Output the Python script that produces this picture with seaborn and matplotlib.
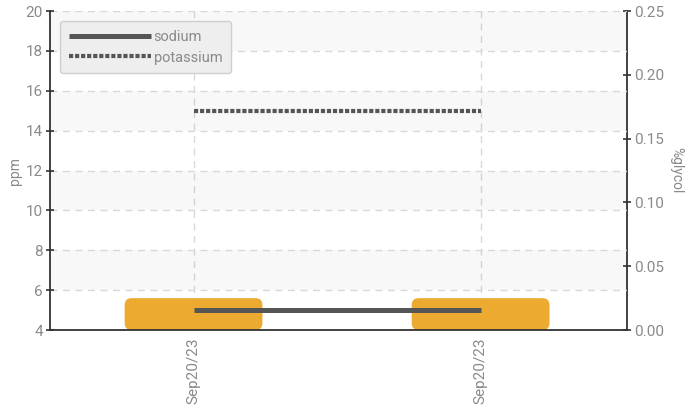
import matplotlib
matplotlib.use("Agg")
import matplotlib.pyplot as plt
import seaborn as sns
from matplotlib.patches import FancyBboxPatch

# data
dates = ["Sep20/23", "Sep20/23"]
sodium = [5, 5]
potassium = [15, 15]
glycol = [0.025, 0.025]

ppm_ticks = [4, 6, 8, 10, 12, 14, 16, 18, 20]
glycol_ticks = [0.00, 0.05, 0.10, 0.15, 0.20, 0.25]

sns.set_style("white")
plt.rcParams['font.family'] = ['Roboto', 'DejaVu Sans']

TXT = "#8a8a8a"
SPINE = "#333333"
LINE = "#555555"
ORANGE = "#ecab30"

positions = list(range(len(dates)))

fig = plt.figure(figsize=(6.89, 4.09), dpi=100)
ax1 = fig.add_axes([0.0726, 0.193, 0.8374, 0.780])
ax2 = ax1.twinx()

# --- right axis: glycol bars (drawn underneath) ---
sns.barplot(x=positions, y=glycol, ax=ax2, color=ORANGE, width=0.48,
            saturation=1, native_scale=True)
for p in list(ax2.patches):
    x0, y0, w, h = p.get_x(), p.get_y(), p.get_width(), p.get_height()
    p.remove()
    ax2.add_patch(FancyBboxPatch((x0, y0), w, h,
                                 boxstyle="round,pad=0,rounding_size=0.024",
                                 mutation_aspect=0.23, fc=ORANGE, ec="none",
                                 zorder=2))
for x in positions:
    ax2.axvline(x, color="#d8d8d8", lw=1, ls=(0, (5, 4)), zorder=0)
ax2.set_ylim(0, 0.25)
ax2.set_yticks(glycol_ticks)
ax2.set_yticklabels([f"{t:.2f}" for t in glycol_ticks])
ax2.set_ylabel("%glycol", color=TXT, fontsize=10, rotation=270, labelpad=14)
ax2.patch.set_visible(True)
ax2.patch.set_facecolor("white")

# --- left axis: ppm lines (on top) ---
ax1.set_zorder(ax2.get_zorder() + 1)
ax1.patch.set_visible(False)
for i in range(len(ppm_ticks) - 1):
    if i % 2 == 1:
        ax1.axhspan(ppm_ticks[i], ppm_ticks[i + 1], color="black", alpha=0.028,
                    lw=0, zorder=0)
for t in ppm_ticks[1:]:
    ax1.axhline(t, color="#d8d8d8", lw=1, ls=(0, (5, 4)), zorder=0.5)

sns.lineplot(x=positions, y=sodium, ax=ax1, color=LINE, lw=3.6,
             label="sodium", solid_capstyle="butt")
sns.lineplot(x=positions, y=potassium, ax=ax1, color=LINE, lw=3.0,
             ls=(0, (1, 0.45)), dash_capstyle="butt", label="potassium")

ax1.set_xlim(-0.5, 1.51)
ax1.set_ylim(4, 20)
ax1.set_yticks(ppm_ticks)
ax1.set_xticks(positions)
ax1.set_xticklabels(dates, rotation=90)
ax1.set_ylabel("ppm", color=TXT, fontsize=10, labelpad=3)

for ax in (ax1, ax2):
    ax.tick_params(colors=SPINE, labelcolor=TXT, labelsize=11,
                   direction="inout", length=6, width=1.2, pad=2)
    ax.spines["top"].set_visible(False)
    for s in ("left", "right", "bottom"):
        ax.spines[s].set_color(SPINE)
        ax.spines[s].set_linewidth(1.3)
ax2.spines["left"].set_visible(False)
ax2.spines["bottom"].set_visible(False)
ax1.spines["right"].set_visible(False)

leg = ax1.legend(loc="upper left", fontsize=10.5, handlelength=5.6,
                 handletextpad=0.2, labelspacing=0.45, borderaxespad=0.7,
                 frameon=True, fancybox=True, facecolor="#eeeeee",
                 edgecolor="#cfcfcf", framealpha=1, borderpad=0.6)
for t in leg.get_texts():
    t.set_color(TXT)

fig.savefig("out.png", dpi=100)
